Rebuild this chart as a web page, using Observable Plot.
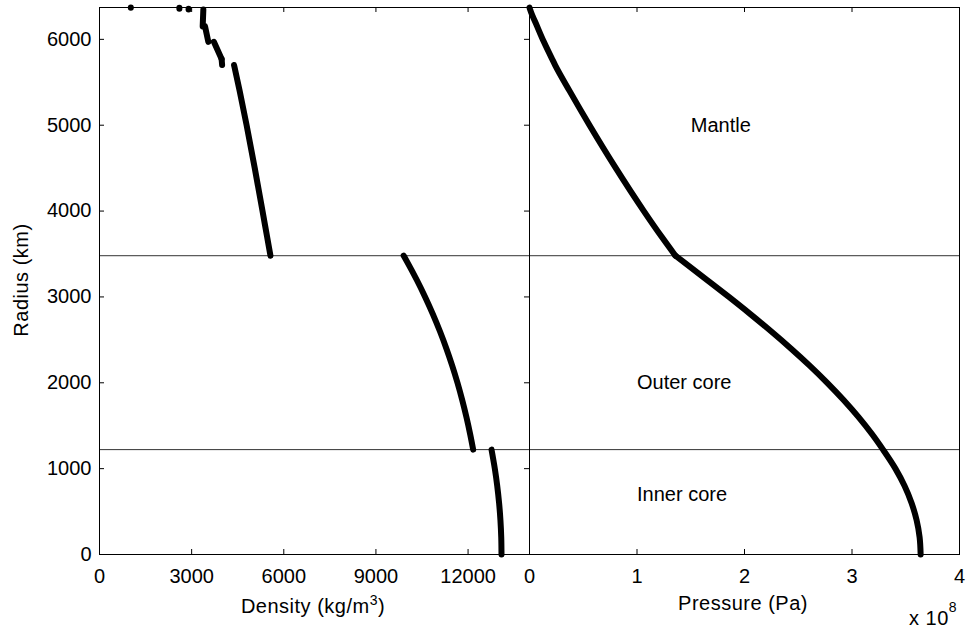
<!DOCTYPE html>
<html><head><meta charset="utf-8">
<script src="https://cdn.jsdelivr.net/npm/d3@7"></script>
<script src="https://cdn.jsdelivr.net/npm/@observablehq/plot@0.6"></script>
<style>
body{margin:0;background:#fff;}
#wrap{position:relative;width:966px;height:628px;overflow:hidden;background:#fff;font-family:"Liberation Sans",Arial,Helvetica,sans-serif;}
#wrap svg{position:absolute;top:0;}
</style></head><body><div id="wrap"></div><script>
// ---- data (PREM-like Earth model) ----
const boundaryRadii = [3480, 1221.5];              // km: core-mantle, inner-outer core
const radiusTicks = [0, 1000, 2000, 3000, 4000, 5000, 6000];
const densityTicks = [0, 3000, 6000, 9000, 12000];
const pressureTicks = [0, 1, 2, 3, 4];              // x 10^8 Pa

// density profile: layer id, radius (km), density (kg/m^3)
const densityLayer = [
  "ic","ic","ic","ic","ic","ic","ic",
  "oc","oc","oc","oc","oc","oc","oc","oc","oc","oc","oc","oc","oc",
  "lm","lm","lm","lm","lm","lm","lm",
  "t1","t1","t2","t2","t3","t3","lid","lid","crust1","crust1","crust2","crust2","ocean","ocean"
];
const densityRadius = [
  0, 200, 400, 600, 800, 1000, 1221.5,
  1221.5, 1400, 1600, 1800, 2000, 2200, 2400, 2600, 2800, 3000, 3200, 3400, 3480,
  3480, 3700, 4000, 4500, 5000, 5400, 5701,
  5701, 5771, 5771, 5971, 5971, 6151, 6151, 6346.6, 6346.6, 6356, 6356, 6368, 6368, 6371
];
const densityValue = [
  13088.5, 13079.8, 13053.7, 13010.1, 12949.1, 12870.8, 12763.6,
  12166.3, 12069.2, 11946.8, 11809.0, 11654.8, 11483.1, 11293.0, 11083.4, 10853.2, 10601.5, 10327.3, 10029.4, 9903.4,
  5566.5, 5456.6, 5307.2, 5054.7, 4789.9, 4563.1, 4380.7,
  3992.1, 3975.8, 3975.9, 3723.7, 3543.3, 3435.8, 3359.5, 3380.8, 2900, 2900, 2600, 2600, 1020, 1020
];

// pressure profile: segment, radius (km), pressure (x 10^8 Pa)
const pressureLayer = ["core","core","core","core","core","core","core","core","core","core","core","core","core","core","core","core","core","core","core",
  "mantle","mantle","mantle","mantle","mantle","mantle","mantle","mantle","mantle","mantle","mantle","mantle"];
const pressureRadius = [0, 200, 400, 600, 800, 1000, 1221.5, 1400, 1600, 1800, 2000, 2200, 2400, 2600, 2800, 3000, 3200, 3400, 3480,
  3480, 3700, 4000, 4500, 5000, 5400, 5701, 5771, 5971, 6151, 6346.6, 6371];
const pressureValue = [3.6385, 3.6291, 3.6010, 3.5541, 3.4884, 3.4039, 3.2885, 3.1874, 3.0612, 2.9217, 2.7697, 2.6059, 2.4313, 2.2471, 2.0545, 1.8548, 1.6495, 1.4420, 1.3575,
  1.3575, 1.2297, 1.0637, 0.8032, 0.5585, 0.3725, 0.2381, 0.2103, 0.1334, 0.0711, 0.0060, 0];

// region labels in the pressure panel
const regionNames = ["Mantle", "Outer core", "Inner core"];
const regionX = [1.5, 1.0, 1.0];
const regionY = [5000, 2000, 700];

// ---- build tables ----
const density = densityRadius.map((r, i) => ({r, rho: densityValue[i], layer: densityLayer[i]}));
const pressure = pressureRadius.map((r, i) => ({r, p: pressureValue[i], layer: pressureLayer[i]}));
const regions = regionNames.map((name, i) => ({name, x: regionX[i], y: regionY[i]}));

const FONT = 20;
const FAM = "Liberation Sans, Arial, sans-serif";
const H = 628, MT = 7, MB = 74, TL = 5;
const PW = 430, PH = H - MT - MB;   // panel width / height in px
const yScale = {domain: [0, 6371]};
const wrap = document.getElementById("wrap");

// inward MATLAB-style ticks drawn as short rules hugging the frame
const tickBottom = v => Plot.ruleX(v, {stroke: "black", insetTop: PH - TL});
const tickTop = v => Plot.ruleX(v, {stroke: "black", insetBottom: PH - TL});
const tickLeft = v => Plot.ruleY(v, {stroke: "black", insetRight: PW - TL});
const tickRight = v => Plot.ruleY(v, {stroke: "black", insetLeft: PW - TL});

const left = Plot.plot({
  width: 530, height: H,
  marginLeft: 99, marginRight: 1, marginTop: MT, marginBottom: MB,
  style: {background: "transparent", fontSize: FONT + "px", fontFamily: FAM, color: "black"},
  x: {domain: [0, 14000]},
  y: yScale,
  marks: [
    Plot.ruleY(boundaryRadii, {stroke: "#333", strokeWidth: 1}),
    Plot.line(density, {x: "rho", y: "r", z: "layer", stroke: "black", strokeWidth: 6, strokeLinecap: "round", strokeLinejoin: "round", curve: "monotone-y"}),
    tickBottom(densityTicks), tickTop(densityTicks), tickLeft(radiusTicks), tickRight(radiusTicks),
    Plot.axisX(densityTicks, {anchor: "bottom", tickSize: 0, tickPadding: 14, stroke: "none", label: null, tickFormat: d => String(d), fill: "black"}),
    Plot.axisY(radiusTicks, {anchor: "left", tickSize: 0, tickPadding: 8, stroke: "none", label: null, tickFormat: d => String(d), fill: "black"}),
    Plot.frame({stroke: "black", strokeWidth: 1})
  ]
});
left.style.left = "0px";
wrap.appendChild(left);

const right = Plot.plot({
  width: 447, height: H,
  marginLeft: 10, marginRight: 7, marginTop: MT, marginBottom: MB,
  style: {background: "transparent", fontSize: FONT + "px", fontFamily: FAM, color: "black"},
  x: {domain: [0, 4]},
  y: {...yScale, axis: null},
  marks: [
    Plot.ruleY(boundaryRadii, {stroke: "#333", strokeWidth: 1}),
    Plot.line(pressure, {x: "p", y: "r", z: "layer", stroke: "black", strokeWidth: 6, strokeLinecap: "round", strokeLinejoin: "round", curve: "monotone-y"}),
    Plot.text(regions, {x: "x", y: "y", text: "name", textAnchor: "start", fontSize: FONT, fill: "black", style: "letter-spacing:0.6px"}),
    tickBottom(pressureTicks), tickTop(pressureTicks),
    Plot.axisX(pressureTicks, {anchor: "bottom", tickSize: 0, tickPadding: 14, stroke: "none", label: null, tickFormat: d => String(d), fill: "black"}),
    Plot.frame({stroke: "black", strokeWidth: 1})
  ]
});
right.style.left = "519px";
wrap.appendChild(right);

// axis titles
const ov = d3.select(wrap).append("svg").attr("width", 966).attr("height", 628)
  .style("left", "0px").style("font-family", FAM).style("font-size", FONT + "px").style("letter-spacing", "0.5px");
ov.append("text").attr("transform", "translate(28,280) rotate(-90)").attr("text-anchor", "middle").text("Radius (km)");
const dt = ov.append("text").attr("x", 313).attr("y", 613).attr("text-anchor", "middle");
dt.append("tspan").text("Density (kg/m");
dt.append("tspan").attr("dy", -8).attr("font-size", FONT * 0.7).text("3");
dt.append("tspan").attr("dy", 8).text(")");
ov.append("text").attr("x", 743).attr("y", 610).attr("text-anchor", "middle").text("Pressure (Pa)");
const xt = ov.append("text").attr("x", 909).attr("y", 625);
xt.append("tspan").text("x 10");
xt.append("tspan").attr("dy", -13).attr("font-size", FONT * 0.7).text("8");
</script></body></html>
